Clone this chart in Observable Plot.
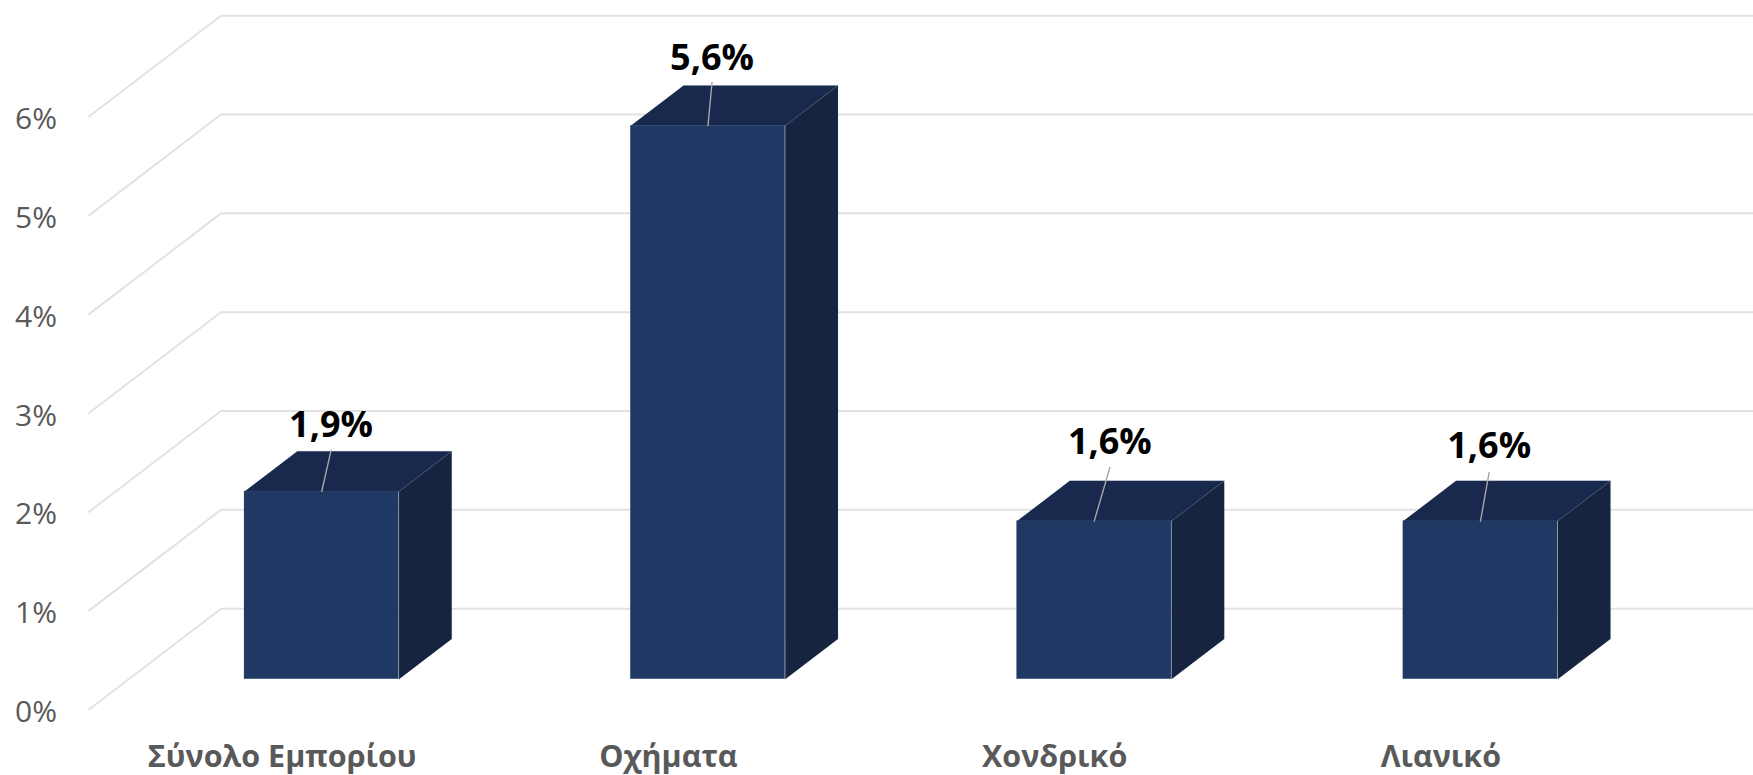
<!DOCTYPE html>
<html lang="el">
<head>
<meta charset="utf-8">
<script src="https://cdn.jsdelivr.net/npm/d3@7"></script>
<script src="https://cdn.jsdelivr.net/npm/@observablehq/plot@0.6"></script>
<style>
  html, body { margin: 0; padding: 0; background: #fff; }
  svg { display: block; }
</style>
</head>
<body>
<div id="chart"></div>
<script>
const categories = ["Σύνολο Εμπορίου", "Οχήματα", "Χονδρικό", "Λιανικό"];
const values = [1.9, 5.6, 1.6, 1.6];
const valueLabels = ["1,9%", "5,6%", "1,6%", "1,6%"];
const ticks = [0, 1, 2, 3, 4, 5, 6];
// Where each data label and the top of its leader line sit, in chart units
const labelX = [0.6265, 1.613, 2.643, 3.625];
const labelY = [2.876, 6.585, 2.7, 2.66];
const leaderTopY = [2.62, 6.344, 2.449, 2.398];

// Oblique projection of the 3-D chart: one unit of depth, in chart units
const depthX = 0.3417;
const depthY = 1.02;
const barWidth = 0.4;
const depthNear = 0.3;
const depthFar = 0.7;

const project = (c, v, d) => ({x: c + d * depthX, y: v + d * depthY});

const grid = ticks.flatMap((t) => [
  {t, ...project(0, t, 0)},
  {t, ...project(0, t, 1)},
  {t, ...project(4, t, 1)}
]);

const bars = values.map((v, i) => {
  const l = i + 0.5 - barWidth / 2, r = i + 0.5 + barWidth / 2;
  return {i, v, l, r};
});
const front = bars.map(({l, r, v}) => {
  const a = project(l, 0, depthNear), b = project(r, v, depthNear);
  return {x1: a.x, x2: b.x, y1: a.y, y2: b.y};
});
const topFace = bars.flatMap(({i, l, r, v}) => [
  {i, ...project(l, v, depthNear)},
  {i, ...project(r, v, depthNear)},
  {i, ...project(r, v, depthFar)},
  {i, ...project(l, v, depthFar)}
]);
const sideFace = bars.flatMap(({i, r, v}) => [
  {i, ...project(r, 0, depthNear)},
  {i, ...project(r, v, depthNear)},
  {i, ...project(r, v, depthFar)},
  {i, ...project(r, 0, depthFar)}
]);
const leaders = bars.flatMap(({i, v}) => [
  {i, ...project(i + 0.5, v, depthNear)},
  {i, x: labelX[i], y: leaderTopY[i]}
]);
const labels = valueLabels.map((text, i) => ({text, x: labelX[i], y: labelY[i]}));

const chart = Plot.plot({
  width: 1753,
  height: 775,
  marginLeft: 88.5,
  marginRight: 119.5,
  marginTop: 116,
  marginBottom: 66,
  style: {fontFamily: "'Open Sans', sans-serif", background: "#fff", overflow: "hidden"},
  x: {type: "linear", domain: [0, 4]},
  y: {type: "linear", domain: [0, 6]},
  marks: [
    Plot.line(grid, {x: "x", y: "y", z: "t", stroke: "#e2e2e2", strokeWidth: 2, curve: "linear"}),
    Plot.axisY(ticks, {
      anchor: "left", tickSize: 0, tickPadding: 32, fontSize: 30, dy: 3,
      color: "#595959", tickFormat: (d) => d + "%", label: null
    }),
    Plot.axisX(categories.map((_, i) => i + 0.5), {
      anchor: "bottom", tickSize: 0, tickPadding: 36, fontSize: 30.5, fontWeight: 700,
      color: "#595959", tickFormat: (d) => categories[d - 0.5], label: null, textOverflow: null
    }),
    Plot.line(topFace, {x: "x", y: "y", z: "i", fill: "#19294d", stroke: "#5d6f92", strokeWidth: 0.6, strokeOpacity: 0.25}),
    Plot.line(sideFace, {x: "x", y: "y", z: "i", fill: "#16243f", stroke: "#5d6f92", strokeWidth: 0.6, strokeOpacity: 0.25}),
    Plot.rect(front, {x1: "x1", x2: "x2", y1: "y1", y2: "y2", fill: "#203864", stroke: "#5d6f92", strokeWidth: 0.6, strokeOpacity: 0.25}),
    Plot.line(leaders, {x: "x", y: "y", z: "i", stroke: "#a6a6a6", strokeWidth: 1.4}),
    Plot.text(labels, {x: "x", y: "y", text: "text", fontSize: 36, fontWeight: 700, fill: "#000"})
  ]
});
document.getElementById("chart").appendChild(chart);
</script>
</body>
</html>
